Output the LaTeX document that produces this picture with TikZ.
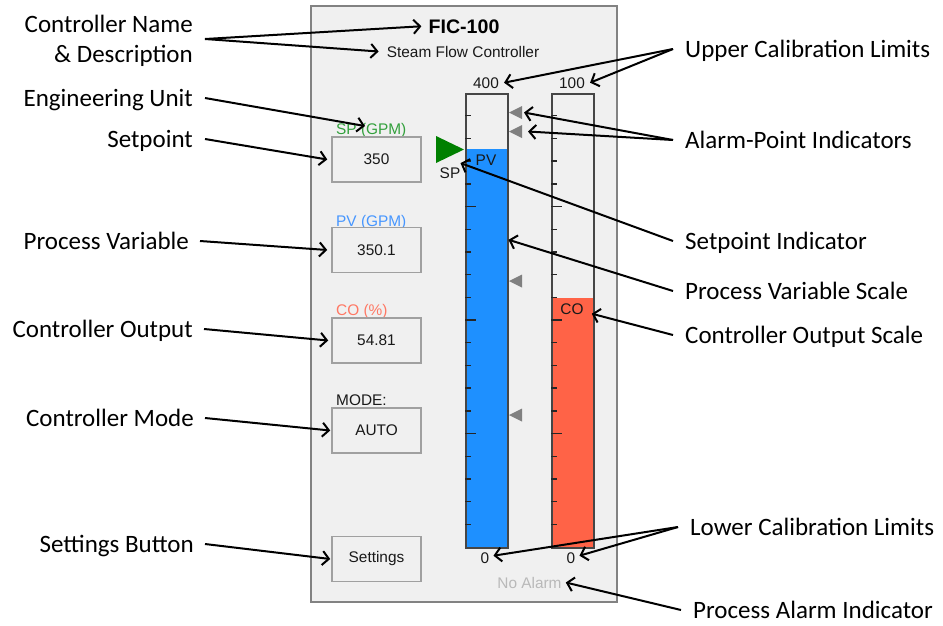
\documentclass[tikz,border=0pt]{standalone}
\usepackage{fontspec}
\usetikzlibrary{arrows.meta,calc}
\newfontfamily\annotfont{Carlito}
\newfontfamily\uifont{Liberation Sans}
\definecolor{panelbg}{RGB}{240,240,240}
\definecolor{paneledge}{RGB}{130,130,130}
\definecolor{boxedge}{RGB}{160,160,160}
\definecolor{bardark}{RGB}{70,70,70}
\definecolor{pvblue}{RGB}{30,144,255}
\definecolor{cored}{RGB}{255,99,71}
\definecolor{spgreen}{RGB}{0,128,0}
\definecolor{alarmgray}{RGB}{128,128,128}
\definecolor{sptxt}{RGB}{50,160,60}
\definecolor{pvtxt}{RGB}{70,150,255}
\definecolor{cotxt}{RGB}{255,120,100}
\definecolor{noalarmc}{RGB}{185,185,185}
\definecolor{uitext}{RGB}{25,25,25}
\tikzset{
  ann/.style={font=\annotfont\fontsize{25}{30}\selectfont, inner sep=0pt, text height=17pt, text depth=1pt},
  ui/.style={font=\uifont\fontsize{15.4}{18}\selectfont, inner sep=0pt, text=uitext},
  titletext/.style={font=\uifont\bfseries\fontsize{19.6}{22}\selectfont, inner sep=0pt, text=black},
  valbox/.style={draw=boxedge, line width=1.5pt, fill=panelbg, minimum width=89pt, minimum height=45pt, inner sep=0pt, font=\uifont\fontsize{15.4}{18}\selectfont, text=uitext},
  barframe/.style={draw=bardark, line width=1.5pt, minimum width=42pt, minimum height=454pt, inner sep=0pt, anchor=north west},
  tickline/.style={draw=black!85, line width=1.4pt},
  arr/.style={line width=2pt, -{Straight Barb[length=6.5pt,width=14pt]}},
}
\begin{document}
\begin{tikzpicture}[x=1pt,y=-1pt]
\useasboundingbox (0,0) rectangle (943,625);
% panel
\draw[fill=panelbg, draw=paneledge, line width=1.2pt] (311,6) rectangle (617,602);
% bar fills
\fill[pvblue] (465,149) rectangle (507,547);
\fill[cored] (551,298) rectangle (593,547);
\node[barframe] (pvbar) at (465,93) {};
\node[barframe] (cobar) at (551,93) {};
% ticks
\foreach \k in {1,...,19}{
  \pgfmathsetmacro{\ty}{93+\k*22.7}
  \pgfmathsetmacro{\tl}{mod(\k,5)==0 ? 11 : 6}
  \draw[tickline] (465,\ty) -- ++(\tl,0);
  \draw[tickline] (551,\ty) -- ++(\tl,0);
}
% alarm triangles
\foreach \ay in {112.5,131.5,281,415}
  \fill[alarmgray] (509,\ay) -- (522,\ay-6.5) -- (522,\ay+6.5) -- cycle;
\coordinate (al1) at (522,112.5);
\coordinate (al2) at (522,131.5);
% setpoint triangle
\fill[spgreen] (436,136) -- (464,149.5) -- (436,163) -- cycle;
% panel texts
\node[titletext, anchor=base] (fic) at (464,33) {FIC-100};
\node[ui, anchor=base] (steam) at (463,57) {Steam Flow Controller};
\node[ui, anchor=base] (n400) at (486,88) {400};
\node[ui, anchor=base] (n100) at (572,88) {100};
\node[ui, anchor=base] (z1) at (485,563) {0};
\node[ui, anchor=base] (z2) at (571,563) {0};
\node[ui, anchor=base] (pvt) at (486,165) {PV};
\node[ui, anchor=base] (cot) at (572,314) {CO};
\node[ui, anchor=base] (spt) at (450,178) {SP};
\node[ui, anchor=base, text=noalarmc] (noal) at (529.5,588) {No Alarm};
\node[ui, anchor=base west, text=sptxt] (splab) at (336,134) {SP (GPM)};
\node[ui, anchor=base west, text=pvtxt] (pvlab) at (336,226) {PV (GPM)};
\node[ui, anchor=base west, text=cotxt] (colab) at (336,315) {CO (\%)};
\node[ui, anchor=base west] (modelab) at (336,405) {MODE:};
% boxes
\node[valbox] (spbox) at (376.5,159.5) {350};
\node[valbox] (pvbox) at (376.5,250) {350.1};
\node[valbox] (cobox) at (376.5,340.5) {54.81};
\node[valbox] (modebox) at (376.5,430.5) {AUTO};
\node[valbox] (setbox) at (376.5,559) {Settings};
% left annotations
\node[ann, anchor=base east] (lname) at (193,32) {Controller Name};
\node[ann, anchor=base east] (ldesc) at (193,62) {\& Description};
\node[ann, anchor=base east] (leng) at (193,106) {Engineering Unit};
\node[ann, anchor=base east] (lsp) at (193,147) {Setpoint};
\node[ann, anchor=base east] (lpv) at (189,249) {Process Variable};
\node[ann, anchor=base east] (lco) at (193,337) {Controller Output};
\node[ann, anchor=base east] (lmode) at (194,426) {Controller Mode};
\node[ann, anchor=base east] (lset) at (194,552) {Settings Button};
% right annotations
\node[ann, anchor=base west] (rupper) at (685,57) {Upper Calibration Limits};
\node[ann, anchor=base west] (ralarm) at (685,148) {Alarm-Point Indicators};
\node[ann, anchor=base west] (rspi) at (685,249) {Setpoint Indicator};
\node[ann, anchor=base west] (rpvs) at (685,299) {Process Variable Scale};
\node[ann, anchor=base west] (rcos) at (685,343) {Controller Output Scale};
\node[ann, anchor=base west] (rlower) at (690,535) {Lower Calibration Limits};
\node[ann, anchor=base west] (rpai) at (693,618) {Process Alarm Indicator};
% connector origins
\coordinate (cn) at ($([xshift=12pt]lname.east)!0.5!([xshift=12pt]ldesc.east)$);
\coordinate (cu) at ([xshift=-12pt]rupper.west);
\coordinate (ca) at ([xshift=-12pt]ralarm.west);
\coordinate (cl) at ([xshift=-12pt]rlower.west);
% left arrows
\draw[arr] (cn) -- ([xshift=-7pt]fic.west);
\draw[arr] (cn) -- ([xshift=-8pt]steam.west);
\draw[arr] ([xshift=12pt]leng.east) -- ([xshift=29pt,yshift=4pt]splab.west);
\draw[arr] ([xshift=12pt]lsp.east) -- ([xshift=-4pt]spbox.west);
\draw[arr] ([xshift=11pt]lpv.east) -- ([xshift=-4pt]pvbox.west);
\draw[arr] ([xshift=11pt]lco.east) -- ([xshift=-3pt]cobox.west);
\draw[arr] ([xshift=11pt]lmode.east) -- ([xshift=-1pt]modebox.west);
\draw[arr] ([xshift=11pt]lset.east) -- ([xshift=-1pt]setbox.west);
% right arrows
\draw[arr] (cu) -- ([xshift=5pt]n400.east);
\draw[arr] (cu) -- ([xshift=5pt]n100.east);
\draw[arr] (ca) -- ([xshift=2pt]al1);
\draw[arr] (ca) -- ([xshift=6pt]al2);
\draw[arr] ([xshift=-12pt]rspi.west) -- ([yshift=4pt]spt.north east);
\draw[arr] ([xshift=-12pt]rpvs.west) -- ([yshift=81pt]pvbar.east);
\draw[arr] ([xshift=-12pt]rcos.west) -- ([xshift=8pt,yshift=-5pt]cot.east);
\draw[arr] (cl) -- ([xshift=4pt,yshift=2pt]z1.east);
\draw[arr] (cl) -- ([xshift=4pt,yshift=2pt]z2.east);
\draw[arr] ([xshift=-12pt]rpai.west) -- ([xshift=4pt]noal.east);
\end{tikzpicture}
\end{document}
